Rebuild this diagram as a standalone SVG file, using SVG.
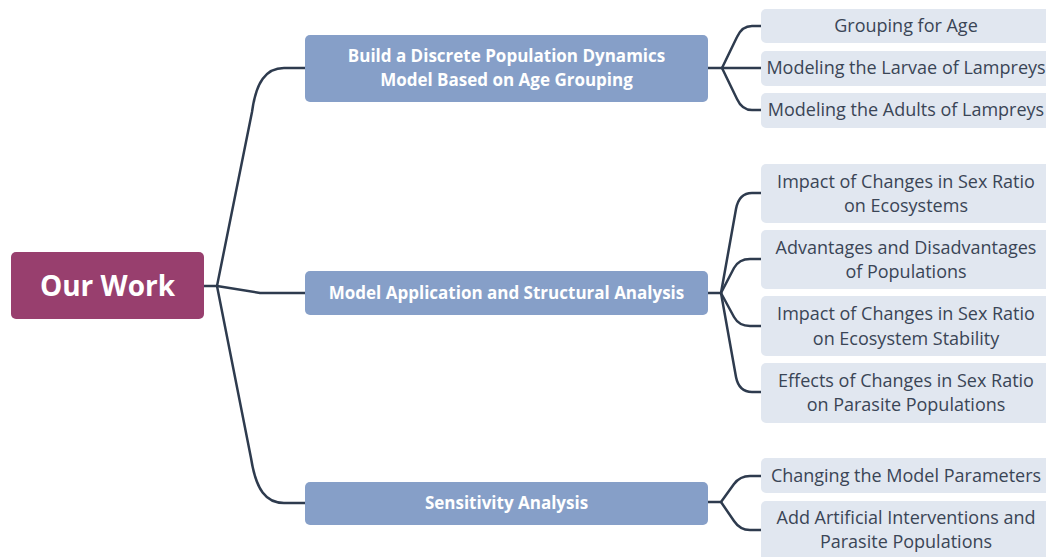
<svg xmlns="http://www.w3.org/2000/svg" width="1046" height="557" viewBox="0 0 1046 557">
<style>
.l{fill:none;stroke:#2e3b4e;stroke-width:2.5;stroke-linejoin:round;stroke-linecap:round}
.root{fill:#983f6e}
.t1{fill:#869fc8}
.t2{fill:#e1e7f0}
.tr{font-family:"Open Sans",Lato,sans-serif;font-weight:bold;font-size:28px;fill:#fff;text-anchor:middle}
.tt1{font-family:"Open Sans",Lato,sans-serif;font-weight:bold;font-size:17px;fill:#fff;text-anchor:middle}
.tt2{font-family:"Open Sans",Lato,sans-serif;font-size:18px;fill:#3a4556;text-anchor:middle}
</style>
<rect width="1046" height="557" fill="#fff"/>
<g id="connectors">
<path class="l" d="M204,286 H217 L252,112 C256,82 266,68 284,68 H305"/>
<path class="l" d="M217,286 L260,293 H305"/>
<path class="l" d="M217,286 L251,458 C256,490 266,503 284,503 H305"/>
<path class="l" d="M708,68 H722 L737,37 Q742,26 752,26 H761"/>
<path class="l" d="M722,68 H761"/>
<path class="l" d="M722,68 L737,99 Q742,110 752,110 H761"/>
<path class="l" d="M708,293 H721 L736,209 Q739,193 752,193 H761"/>
<path class="l" d="M721,293 L734,268 Q739,259 750,259 H761"/>
<path class="l" d="M721,293 L734,317 Q739,326 750,326 H761"/>
<path class="l" d="M721,293 L736,377 Q739,392 752,392 H761"/>
<path class="l" d="M708,502 H721 L734,484 Q740,476 750,476 H761"/>
<path class="l" d="M721,502 L734,521 Q740,530 750,530 H761"/>
</g>
<g id="root">
<rect class="root" x="11" y="252" width="193" height="67" rx="5"/>
<text class="tr" x="107.5" y="296">Our Work</text>
</g>
<g id="n1">
<rect class="t1" x="305" y="35" width="403" height="67" rx="5"/>
<text class="tt1" x="506.5" y="62">Build a Discrete Population Dynamics</text>
<text class="tt1" x="506.5" y="86">Model Based on Age Grouping</text>
</g>
<g id="n2">
<rect class="t1" x="305" y="271" width="403" height="44" rx="5"/>
<text class="tt1" x="506.5" y="299">Model Application and Structural Analysis</text>
</g>
<g id="n3">
<rect class="t1" x="305" y="482" width="403" height="43" rx="5"/>
<text class="tt1" x="506.5" y="509">Sensitivity Analysis</text>
</g>
<g id="n1a">
<rect class="t2" x="761" y="9" width="295" height="34" rx="5"/>
<text class="tt2" x="906" y="32">Grouping for Age</text>
</g>
<g id="n1b">
<rect class="t2" x="761" y="51" width="295" height="35" rx="5"/>
<text class="tt2" x="906" y="74">Modeling the Larvae of Lampreys</text>
</g>
<g id="n1c">
<rect class="t2" x="761" y="93" width="295" height="35" rx="5"/>
<text class="tt2" x="906" y="116">Modeling the Adults of Lampreys</text>
</g>
<g id="n2a">
<rect class="t2" x="761" y="164" width="295" height="59" rx="5"/>
<text class="tt2" x="906" y="188">Impact of Changes in Sex Ratio</text>
<text class="tt2" x="906" y="212">on Ecosystems</text>
</g>
<g id="n2b">
<rect class="t2" x="761" y="230" width="295" height="59" rx="5"/>
<text class="tt2" x="906" y="254">Advantages and Disadvantages</text>
<text class="tt2" x="906" y="278">of Populations</text>
</g>
<g id="n2c">
<rect class="t2" x="761" y="296" width="295" height="60" rx="5"/>
<text class="tt2" x="906" y="320">Impact of Changes in Sex Ratio</text>
<text class="tt2" x="906" y="345">on Ecosystem Stability</text>
</g>
<g id="n2d">
<rect class="t2" x="761" y="363" width="295" height="60" rx="5"/>
<text class="tt2" x="906" y="387">Effects of Changes in Sex Ratio</text>
<text class="tt2" x="906" y="411">on Parasite Populations</text>
</g>
<g id="n3a">
<rect class="t2" x="761" y="458" width="295" height="35" rx="5"/>
<text class="tt2" x="906" y="482">Changing the Model Parameters</text>
</g>
<g id="n3b">
<rect class="t2" x="761" y="501" width="295" height="70" rx="5"/>
<text class="tt2" x="906" y="524">Add Artificial Interventions and</text>
<text class="tt2" x="906" y="548">Parasite Populations</text>
</g>
</svg>
